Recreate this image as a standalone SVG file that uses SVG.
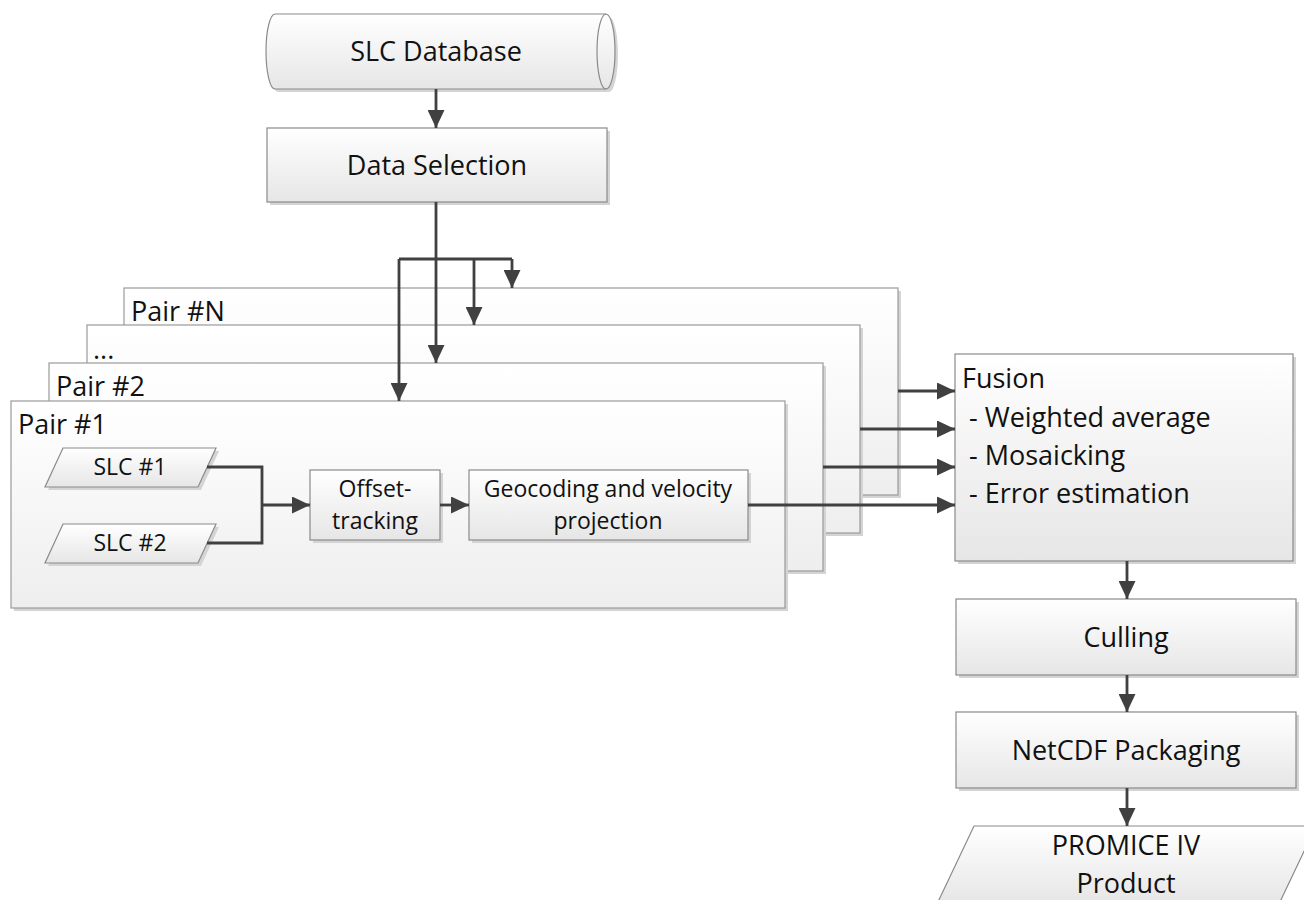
<svg xmlns="http://www.w3.org/2000/svg" width="1304" height="900" viewBox="0 0 1304 900">
<defs>
<linearGradient id="gBox" x1="0" y1="0" x2="0" y2="1">
<stop offset="0" stop-color="#ffffff"/>
<stop offset="1" stop-color="#e6e6e6"/>
</linearGradient>
<linearGradient id="gPair" x1="0" y1="0" x2="0" y2="1">
<stop offset="0" stop-color="#ffffff"/>
<stop offset="1" stop-color="#eeeeee"/>
</linearGradient>
<marker id="arr" viewBox="0 0 18 17" refX="18" refY="8.5" markerWidth="18" markerHeight="17" markerUnits="userSpaceOnUse" orient="auto">
<path d="M0,0 L18,8.5 L0,17 Z" fill="#404040"/>
</marker>
</defs>
<style>
.box{fill:url(#gBox);stroke:#8a8a8a;stroke-width:1.2}
.pair{fill:url(#gPair);stroke:#9a9a9a;stroke-width:1.2}
.shadow{fill:#d4d4d4}
.t{font-family:"Open Sans","Noto Sans",sans-serif;font-size:27px;fill:#111}
.ts{font-family:"Open Sans","Noto Sans",sans-serif;font-size:23px;fill:#111}
.c{text-anchor:middle}
.conn{fill:none;stroke:#404040;stroke-width:2.8}
.arrow{marker-end:url(#arr)}
</style>

<g id="slc-database">
<path class="shadow" d="M278,17 H609 A9,37.5 0 0 1 609,92 H278 A9,37.5 0 0 1 278,17 Z"/>
<path class="box" d="M275,14 H606 A9,37.5 0 0 1 606,89 H275 A9,37.5 0 0 1 275,14 Z"/>
<path fill="none" stroke="#8a8a8a" stroke-width="1.2" d="M606,14 A9,37.5 0 0 0 606,89"/>
<text class="t c" x="436" y="61">SLC Database</text>
</g>

<g id="data-selection">
<rect class="shadow" x="270" y="131" width="340" height="74"/>
<rect class="box" x="267" y="128" width="340" height="74"/>
<text class="t c" x="437" y="175">Data Selection</text>
</g>

<g id="pair-n">
<rect class="shadow" x="127" y="291" width="774" height="207"/>
<rect class="pair" x="124" y="288" width="774" height="207"/>
<text class="t" x="131" y="321">Pair #N</text>
</g>

<g id="pair-dots">
<rect class="shadow" x="90" y="328" width="773" height="208"/>
<rect class="pair" x="87" y="325" width="773" height="208"/>
<text class="t" x="93" y="359">...</text>
</g>

<g id="pair-2">
<rect class="shadow" x="52" y="366" width="774" height="208"/>
<rect class="pair" x="49" y="363" width="774" height="208"/>
<text class="t" x="56" y="396">Pair #2</text>
</g>

<g id="pair-1">
<rect class="shadow" x="14" y="404" width="774" height="207"/>
<rect class="pair" x="11" y="401" width="774" height="207"/>
<text class="t" x="18" y="434">Pair #1</text>
</g>

<g id="slc-1">
<polygon class="shadow" points="66,451 219,451 201,490 48,490"/>
<polygon class="box" points="63,448 216,448 198,487 45,487"/>
<text class="ts c" x="130" y="475">SLC #1</text>
</g>

<g id="slc-2">
<polygon class="shadow" points="66,527 219,527 201,566 48,566"/>
<polygon class="box" points="63,524 216,524 198,563 45,563"/>
<text class="ts c" x="130" y="551">SLC #2</text>
</g>

<g id="offset-tracking">
<rect class="shadow" x="313" y="473" width="130" height="70"/>
<rect class="box" x="310" y="470" width="130" height="70"/>
<text class="ts c" x="375" y="497">Offset-</text>
<text class="ts c" x="375" y="529">tracking</text>
</g>

<g id="geocoding">
<rect class="shadow" x="472" y="473" width="279" height="70"/>
<rect class="box" x="469" y="470" width="279" height="70"/>
<text class="ts c" x="608" y="497">Geocoding and velocity</text>
<text class="ts c" x="608" y="529">projection</text>
</g>

<g id="fusion">
<rect class="shadow" x="958" y="357" width="338" height="207"/>
<rect class="box" x="955" y="354" width="338" height="207"/>
<text class="t" x="962" y="388">Fusion</text>
<text class="t" x="969" y="427">- Weighted average</text>
<text class="t" x="969" y="465">- Mosaicking</text>
<text class="t" x="969" y="503">- Error estimation</text>
</g>

<g id="culling">
<rect class="shadow" x="959" y="602" width="340" height="76"/>
<rect class="box" x="956" y="599" width="340" height="76"/>
<text class="t c" x="1126" y="647">Culling</text>
</g>

<g id="netcdf">
<rect class="shadow" x="959" y="715" width="340" height="76"/>
<rect class="box" x="956" y="712" width="340" height="76"/>
<text class="t c" x="1126" y="760">NetCDF Packaging</text>
</g>

<g id="promice">
<polygon class="box" points="974,826 1316,826 1279,904 937,904"/>
<text class="t c" x="1126" y="855">PROMICE IV</text>
<text class="t c" x="1126" y="893">Product</text>
</g>

<g id="connectors">
<path class="conn arrow" d="M436,89 V128"/>
<path class="conn arrow" d="M436,202 V363"/>
<path class="conn" d="M399,259 H512"/>
<path class="conn arrow" d="M399,259 V401"/>
<path class="conn arrow" d="M474,259 V325"/>
<path class="conn arrow" d="M512,259 V288"/>
<path class="conn" d="M207,467 H262 V543 H207"/>
<path class="conn arrow" d="M262,505 H310"/>
<path class="conn arrow" d="M440,505 H469"/>
<path class="conn arrow" d="M748,505 H955"/>
<path class="conn arrow" d="M898,391 H955"/>
<path class="conn arrow" d="M860,429 H955"/>
<path class="conn arrow" d="M823,467 H955"/>
<path class="conn arrow" d="M1127,561 V599"/>
<path class="conn arrow" d="M1127,675 V712"/>
<path class="conn arrow" d="M1127,788 V826"/>
</g>
</svg>
